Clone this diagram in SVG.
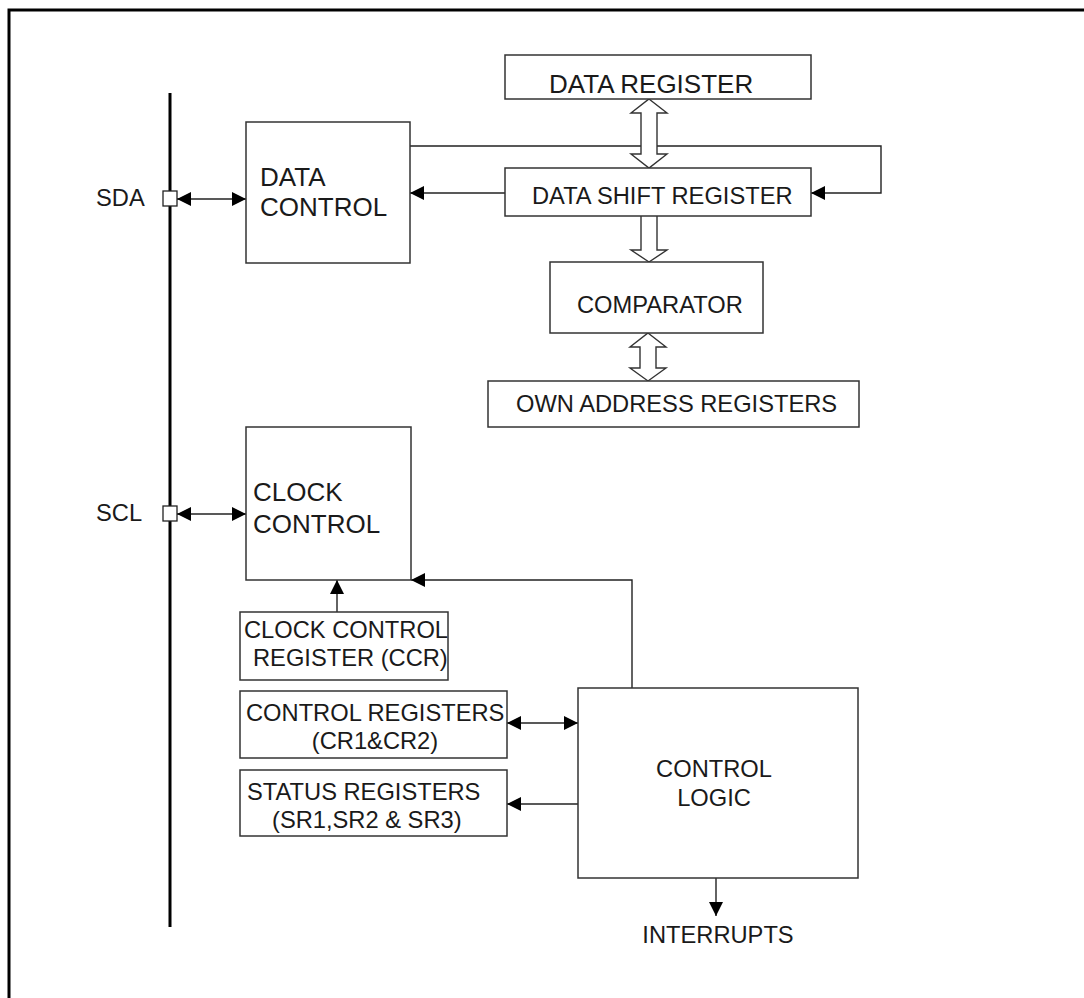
<svg xmlns="http://www.w3.org/2000/svg" width="1084" height="998" viewBox="0 0 1084 998">
<style>
  .box{fill:#fff;stroke:#333;stroke-width:1.5}
  .t{font-family:"Liberation Sans",Arial,sans-serif;fill:#1a1a1a}
  .t25{font-size:26px}
  .t23{font-size:23.7px}
  .ln{fill:none;stroke:#222;stroke-width:1.4}
  .hol{fill:#fff;stroke:#333;stroke-width:1.4;stroke-linejoin:miter}
  .pin{fill:#fff;stroke:#222;stroke-width:1.3}
</style>
<defs>
  <marker id="ah" viewBox="0 0 14 14" refX="14" refY="7" markerWidth="14" markerHeight="14" markerUnits="userSpaceOnUse" orient="auto-start-reverse">
    <path d="M0,0 L14,7 L0,14 Z" fill="#000"/>
  </marker>
</defs>
<rect width="1084" height="998" fill="#fff"/>
<!-- frame -->
<path d="M9,998 L9,10 L1084,10" fill="none" stroke="#000" stroke-width="3"/>
<!-- bus -->
<g id="bus">
  <line x1="170" y1="93" x2="170" y2="927" stroke="#000" stroke-width="3"/>
  <text class="t t23" x="96" y="206">SDA</text>
  <rect class="pin" x="163" y="191" width="14" height="15"/>
  <text class="t t23" x="96" y="521">SCL</text>
  <rect class="pin" x="163" y="506" width="14" height="15"/>
</g>
<g id="connectors">
  <polyline class="ln" points="410,146 881,146 881,193 811,193" marker-end="url(#ah)"/>
  <line class="ln" x1="505" y1="193" x2="410" y2="193" marker-end="url(#ah)"/>
  <line class="ln" x1="177" y1="199" x2="246" y2="199" marker-start="url(#ah)" marker-end="url(#ah)"/>
  <line class="ln" x1="177" y1="514" x2="246" y2="514" marker-start="url(#ah)" marker-end="url(#ah)"/>
  <line class="ln" x1="337" y1="612" x2="337" y2="580" marker-end="url(#ah)"/>
  <polyline class="ln" points="632,688 632,580 411,580" marker-end="url(#ah)"/>
  <line class="ln" x1="507" y1="723" x2="578" y2="723" marker-start="url(#ah)" marker-end="url(#ah)"/>
  <line class="ln" x1="580" y1="804" x2="507" y2="804" marker-end="url(#ah)"/>
  <line class="ln" x1="716" y1="878" x2="716" y2="916" marker-end="url(#ah)"/>
  <path class="hol" d="M649,99 L667,113 L657,113 L657,154 L667,154 L649,168 L631,154 L641,154 L641,113 L631,113 Z"/>
  <path class="hol" d="M641,216 L641,250 L631,250 L649,262 L667,250 L657,250 L657,216"/>
  <path class="hol" d="M648,333 L666,347 L656,347 L656,368 L666,368 L648,381 L630,368 L640,368 L640,347 L630,347 Z"/>
</g>
<g id="data-register">
  <rect class="box" x="505" y="55" width="306" height="44"/>
  <text class="t t25" x="549" y="93">DATA REGISTER</text>
</g>
<g id="data-shift-register">
  <rect class="box" x="505" y="168" width="306" height="48"/>
  <text class="t t23" x="532" y="204">DATA SHIFT REGISTER</text>
</g>
<g id="comparator">
  <rect class="box" x="550" y="262" width="213" height="71"/>
  <text class="t t23" x="577" y="313">COMPARATOR</text>
</g>
<g id="own-address-registers">
  <rect class="box" x="488" y="381" width="371" height="46"/>
  <text class="t t23" x="516" y="412">OWN ADDRESS REGISTERS</text>
</g>
<g id="data-control">
  <rect class="box" x="246" y="122" width="164" height="141"/>
  <text class="t t25" x="260" y="186">DATA</text>
  <text class="t t25" x="260" y="216">CONTROL</text>
</g>
<g id="clock-control">
  <rect class="box" x="246" y="427" width="165" height="153"/>
  <text class="t t25" x="253" y="501">CLOCK</text>
  <text class="t t25" x="253" y="533">CONTROL</text>
</g>
<g id="ccr">
  <rect class="box" x="240" y="612" width="208" height="68"/>
  <text class="t t23" x="244" y="638">CLOCK CONTROL</text>
  <text class="t t23" x="253" y="666">REGISTER (CCR)</text>
</g>
<g id="control-registers">
  <rect class="box" x="240" y="691" width="267" height="67"/>
  <text class="t t23" x="246" y="721">CONTROL REGISTERS</text>
  <text class="t t23" x="375" y="749" text-anchor="middle">(CR1&amp;CR2)</text>
</g>
<g id="status-registers">
  <rect class="box" x="240" y="770" width="267" height="66"/>
  <text class="t t23" x="247" y="800">STATUS REGISTERS</text>
  <text class="t t23" x="272" y="828">(SR1,SR2 &amp; SR3)</text>
</g>
<g id="control-logic">
  <rect class="box" x="578" y="688" width="280" height="190"/>
  <text class="t t23" x="714" y="777" text-anchor="middle">CONTROL</text>
  <text class="t t23" x="714" y="806" text-anchor="middle">LOGIC</text>
</g>
<g id="interrupts">
  <text class="t t23" x="718" y="943" text-anchor="middle">INTERRUPTS</text>
</g>
</svg>
